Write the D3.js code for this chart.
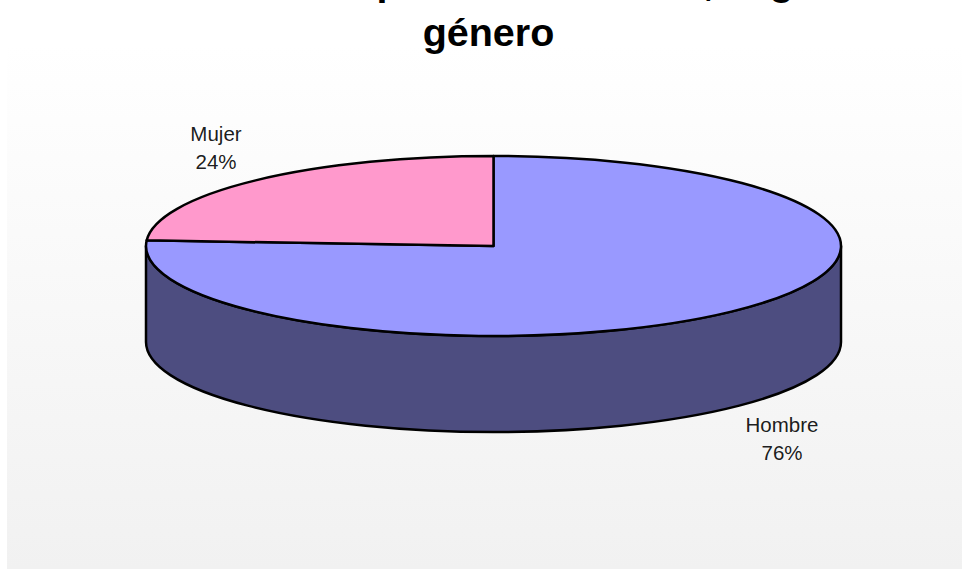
<!DOCTYPE html>
<html>
<head>
<meta charset="utf-8">
<script src="https://cdn.jsdelivr.net/npm/d3@7/dist/d3.min.js"></script>
<style>
html,body{margin:0;padding:0;background:#fff;overflow:hidden}
svg{display:block}
text{font-family:"Liberation Sans",Arial,sans-serif;fill:#000}
</style>
</head>
<body>
<svg id="chart" width="962" height="570"></svg>
<script>
const categories = ["Hombre", "Mujer"];
const values = [76, 24];
const sliceColors = ["#9999ff", "#ff99cc"];
const wallColor = "#4d4d80";
const titleLines = ["Distribución porcentual actual, según", "género"];

const svg = d3.select("#chart");
const defs = svg.append("defs");
const grad = defs.append("linearGradient").attr("id","bg").attr("x1",0).attr("y1",0).attr("x2",0).attr("y2",1);
grad.append("stop").attr("offset","8%").attr("stop-color","#ffffff");
grad.append("stop").attr("offset","100%").attr("stop-color","#f1f1f1");
svg.append("rect").attr("x",7).attr("y",0).attr("width",955).attr("height",569).attr("fill","url(#bg)");

// title
svg.append("g").selectAll("text").data(titleLines).join("text")
  .attr("x",488.5).attr("y",(d,i)=>-5+i*50.5)
  .attr("text-anchor","middle").attr("font-size",39.5).attr("font-weight","bold")
  .text(d=>d);

// ellipse scales: unit circle -> screen
const cx=493.5, cy=246, rx=347.5, ry=90, depth=96;
const sx=d3.scaleLinear().domain([-1,1]).range([cx-rx,cx+rx]);
const sy=d3.scaleLinear().domain([-1,1]).range([cy-ry,cy+ry]);
const px=a=>sx(Math.sin(a)), py=a=>sy(-Math.cos(a));

const pie=d3.pie().sort(null).value(d=>d)(values);
const g=svg.append("g").attr("stroke","#000").attr("stroke-width",2.5).attr("stroke-linejoin","round");

// side wall: visible front half of the rim
g.append("path")
 .attr("d",`M${sx(-1)},${sy(0)} A${rx},${ry} 0 0 0 ${sx(1)},${sy(0)} L${sx(1)},${sy(0)+depth} A${rx},${ry} 0 0 1 ${sx(-1)},${sy(0)+depth} Z`)
 .attr("fill",wallColor);

// top slices
g.selectAll("path.slice").data(pie).join("path").attr("class","slice")
 .attr("fill",(d,i)=>sliceColors[i])
 .attr("d",d=>{
   const large=(d.endAngle-d.startAngle)>Math.PI?1:0;
   return `M${cx},${cy} L${px(d.startAngle)},${py(d.startAngle)} A${rx},${ry} 0 ${large} 1 ${px(d.endAngle)},${py(d.endAngle)} Z`;
 });

// labels
const labelPos=[[782,432],[216,141]];
const lab=svg.append("g").attr("font-size",20.5).attr("text-anchor","middle").attr("fill-opacity",0.9);
categories.forEach((c,i)=>{
  lab.append("text").attr("x",labelPos[i][0]).attr("y",labelPos[i][1]).text(c);
  lab.append("text").attr("x",labelPos[i][0]).attr("y",labelPos[i][1]+27.5).text(values[i]+"%");
});
</script>
</body>
</html>
